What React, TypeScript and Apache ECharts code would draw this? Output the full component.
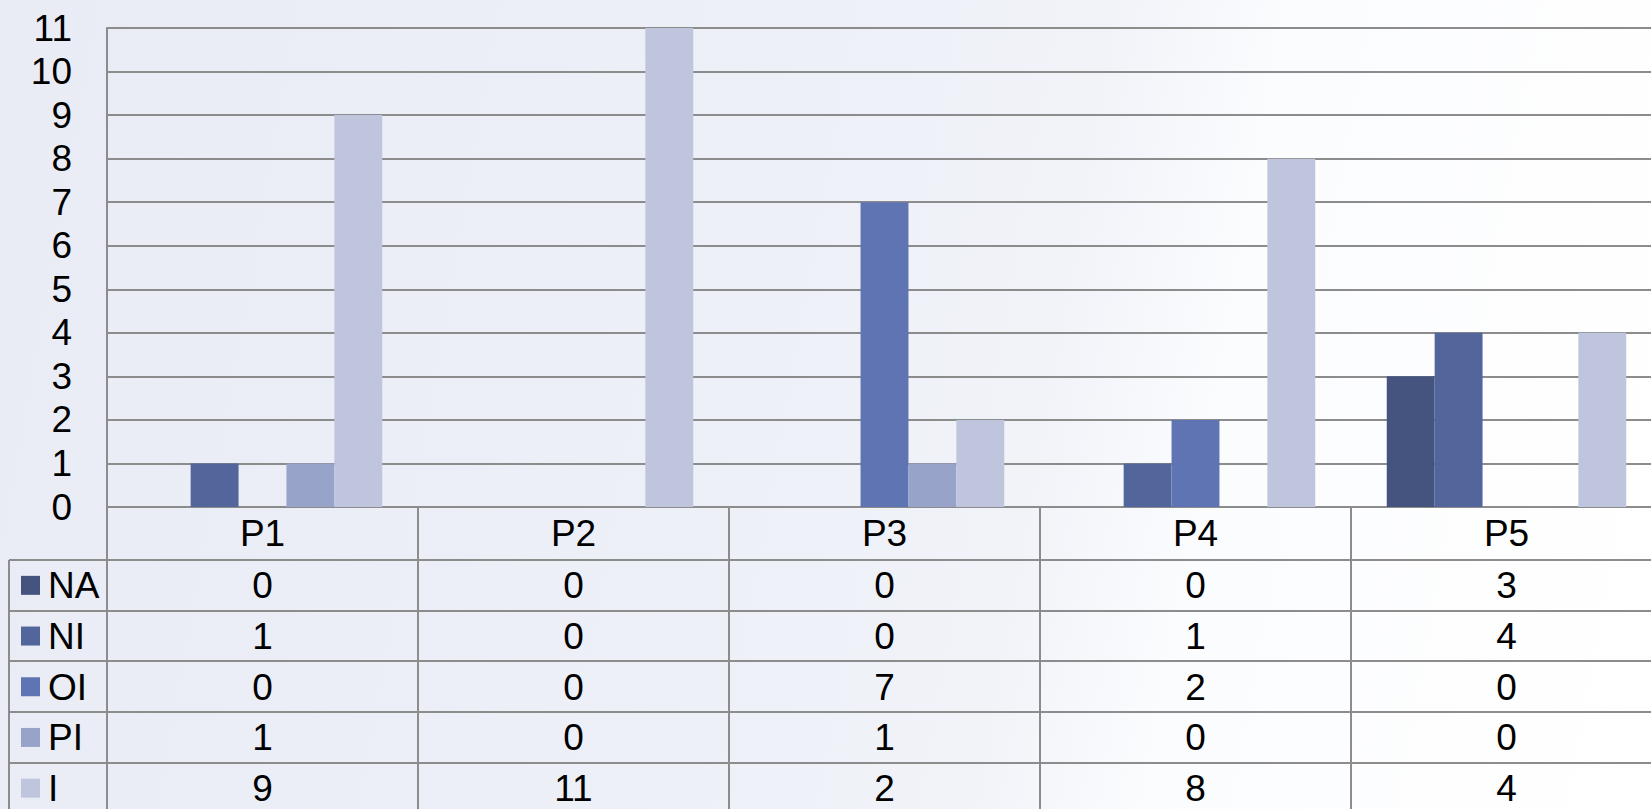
import React, { useEffect, useRef } from "react";
import * as echarts from "echarts";

const categories = ["P1", "P2", "P3", "P4", "P5"];
const seriesNames = ["NA", "NI", "OI", "PI", "I"];
const naValues = [0, 0, 0, 0, 3];
const niValues = [1, 0, 0, 1, 4];
const oiValues = [0, 0, 7, 2, 0];
const piValues = [1, 0, 1, 0, 0];
const iValues = [9, 11, 2, 8, 4];
const seriesColors = ["#44547f", "#53669c", "#5f75b3", "#97a3c8", "#bfc5dc"];
const yTicks = [0, 11, 1]; // min, max, interval

const W = 1651;
const H = 809;
const CW = 1720;
const CH = 860;
const GRID_LEFT = 107;
const GRID_TOP = 28;
const COL_W = 311;
const GRID_H = 479;
const HEADER_H = 53;
const ROW_H = 50.7;
const TABLE_LEFT = 9;
const LINE_COLOR = "#8c8c8c";
const FONT = "'Liberation Sans', Arial, sans-serif";
const FS = 37;

export default function App() {
  const ref = useRef<HTMLDivElement>(null);
  useEffect(() => {
    if (!ref.current) return;
    const chart = echarts.init(ref.current, null, { renderer: "svg" });
    const allValues = [naValues, niValues, oiValues, piValues, iValues];
    const axisBottom = GRID_TOP + GRID_H;
    const tableTop = axisBottom + HEADER_H;

    const graphics: any[] = [];
    for (let r = 0; r < seriesNames.length; r++) {
      const y = Math.round(tableTop + r * ROW_H);
      graphics.push({
        type: "line",
        shape: { x1: TABLE_LEFT, y1: y, x2: CW, y2: y },
        style: { stroke: LINE_COLOR, lineWidth: 2 },
        silent: true,
      });
    }
    graphics.push({
      type: "line",
      shape: { x1: TABLE_LEFT, y1: tableTop, x2: TABLE_LEFT, y2: CH },
      style: { stroke: LINE_COLOR, lineWidth: 2 },
      silent: true,
    });
    seriesNames.forEach((name, r) => {
      const cy = tableTop + r * ROW_H + ROW_H / 2;
      graphics.push({
        type: "rect",
        shape: { x: 21, y: cy - 9.5, width: 19, height: 19 },
        style: { fill: seriesColors[r] },
        silent: true,
      });
      graphics.push({
        type: "text",
        style: {
          text: name,
          x: 48,
          y: cy + 0.5,
          fontSize: FS,
          lineHeight: 28,
          fontFamily: FONT,
          fill: "#000",
          align: "left",
          verticalAlign: "middle",
        },
        silent: true,
      });
      allValues[r].forEach((v, c) => {
        graphics.push({
          type: "text",
          style: {
            text: String(v),
            x: GRID_LEFT + COL_W * c + COL_W / 2,
            y: cy + 0.5,
            fontSize: FS,
            lineHeight: 28,
            fontFamily: FONT,
            fill: "#000",
            align: "center",
            verticalAlign: "middle",
          },
          silent: true,
        });
      });
    });

    chart.setOption({
      animation: false,
      backgroundColor: "transparent",
      grid: {
        left: GRID_LEFT,
        top: GRID_TOP,
        width: COL_W * categories.length,
        height: GRID_H,
        containLabel: false,
      },
      xAxis: {
        type: "category",
        data: categories,
        axisLine: { show: true, lineStyle: { color: LINE_COLOR, width: 2 } },
        axisTick: {
          show: true,
          interval: 0,
          length: CH - axisBottom,
          lineStyle: { color: LINE_COLOR, width: 2 },
        },
        axisLabel: {
          interval: 0,
          fontSize: FS,
          fontFamily: FONT,
          color: "#000",
          margin: 8,
        },
        splitLine: { show: false },
      },
      yAxis: {
        type: "value",
        min: yTicks[0],
        max: yTicks[1],
        interval: yTicks[2],
        axisLine: { show: true, lineStyle: { color: LINE_COLOR, width: 2 } },
        axisTick: { show: false },
        axisLabel: {
          fontSize: FS,
          fontFamily: FONT,
          color: "#000",
          margin: 35,
        },
        splitLine: { show: true, lineStyle: { color: LINE_COLOR, width: 2 } },
      },
      series: seriesNames.map((name, i) => ({
        name,
        type: "bar",
        data: allValues[i],
        barGap: "0%",
        barCategoryGap: "23%",
        itemStyle: { color: seriesColors[i] },
      })),
      graphic: graphics,
    });
    return () => chart.dispose();
  }, []);
  return (
    <div
      style={{
        position: "fixed",
        left: 0,
        top: 0,
        width: W,
        height: H,
        overflow: "hidden",
        background:
          "linear-gradient(100deg, #e9ecf5 0%, #edf0f7 45%, #f1f3f9 62%, #fbfcfe 72%, #ffffff 100%)",
      }}
    >
      <div ref={ref} style={{ width: CW, height: CH }} />
    </div>
  );
}
